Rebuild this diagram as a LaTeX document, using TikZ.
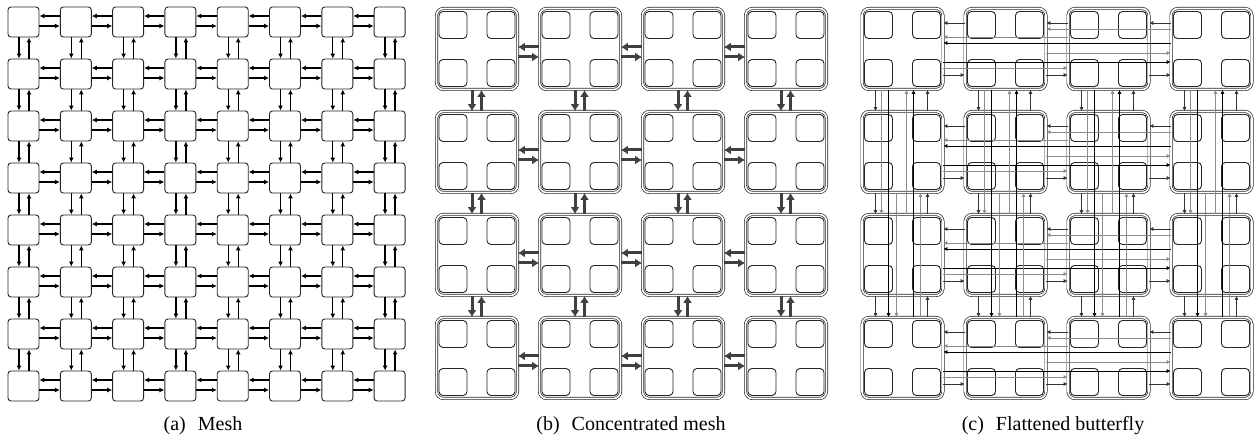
\documentclass[tikz,border=0pt]{standalone}
\usepackage{fontspec}
\setmainfont{Liberation Serif}
\usetikzlibrary{arrows.meta}

\tikzset{
  meshnode/.style={draw=black!85, line width=0.9pt, fill=white, rounded corners=3pt,
    minimum width=31pt, minimum height=30pt, inner sep=0pt},
  meshlink/.style={-{Latex[length=5pt,width=5pt]}, line width=1.3pt, black},
  router/.style={draw=black!85, line width=0.7pt, double=white, double distance=1.6pt,
    rounded corners=7pt, minimum size=81pt, inner sep=0pt},
  core/.style={draw=black!85, line width=0.9pt, fill=white, rounded corners=4pt,
    minimum width=28pt, minimum height=27pt, inner sep=0pt},
  cmlink/.style={-{Latex[length=7pt,width=9pt]}, line width=3pt, black!75},
  fblink/.style={-{Latex[length=4pt,width=4pt]}, line width=0.7pt},
  fb1/.style={fblink, black!80},
  fb2/.style={fblink, black!45},
  fb3/.style={fblink, black},
  caption/.style={font=\fontsize{20}{24}\selectfont}
}

\begin{document}
\begin{tikzpicture}[x=1pt, y=-1pt]
\useasboundingbox (0,0) rectangle (1254,443);

% (a) mesh
\foreach \row in {0,...,7} {
  \foreach \col in {0,...,7}
    \node[meshnode] (m-\row-\col) at ({23.5+52.3*\col}, {22+52*\row}) {};
}

\foreach \row in {0,...,7} {
  \foreach \col [evaluate=\col as \nxt using int(\col+1)] in {0,...,6} {
    \draw[meshlink] ([yshift=6pt]m-\row-\nxt.west) -- ([yshift=6pt]m-\row-\col.east);
    \draw[meshlink] ([yshift=-4pt]m-\row-\col.east) -- ([yshift=-4pt]m-\row-\nxt.west);
  }
}
\foreach \row [evaluate=\row as \nxt using int(\row+1)] in {0,...,6} {
  \foreach \col in {0,...,7} {
    \draw[meshlink] ([xshift=-4.5pt]m-\row-\col.south) -- ([xshift=-4.5pt]m-\nxt-\col.north);
    \draw[meshlink] ([xshift=5.5pt]m-\nxt-\col.north) -- ([xshift=5.5pt]m-\row-\col.south);
  }
}

\node[caption] (capa) at (203,426) {(a)\hspace{0.6em}Mesh};

% (b) concentrated mesh
\foreach \row in {0,...,3} {
  \foreach \col in {0,...,3} {
    \node[router] (b-\row-\col) at ({477+103*\col}, {49+103*\row}) {};
    \foreach \dx/\dy/\k in {-1/-1/1, 1/-1/2, -1/1/3, 1/1/4}
      \node[core] (b-\row-\col-\k) at ([shift={(24*\dx,24*\dy)}]b-\row-\col.center) {};
  }
}

\foreach \row in {0,...,3} {
  \foreach \col [evaluate=\col as \nxt using int(\col+1)] in {0,...,2} {
    \draw[cmlink] ([yshift=2pt]b-\row-\nxt.west) -- ([yshift=2pt]b-\row-\col.east);
    \draw[cmlink] ([yshift=-8pt]b-\row-\col.east) -- ([yshift=-8pt]b-\row-\nxt.west);
  }
}
\foreach \row [evaluate=\row as \nxt using int(\row+1)] in {0,...,2} {
  \foreach \col in {0,...,3} {
    \draw[cmlink] ([xshift=-5pt]b-\row-\col.south) -- ([xshift=-5pt]b-\nxt-\col.north);
    \draw[cmlink] ([xshift=4.5pt]b-\nxt-\col.north) -- ([xshift=4.5pt]b-\row-\col.south);
  }
}

\node[caption] (capb) at (631,426) {(b)\hspace{0.6em}Concentrated mesh};

% (c) flattened butterfly
\foreach \row in {0,...,3} {
  \foreach \col in {0,...,3} {
    \node[router] (c-\row-\col) at ({902.5+103*\col}, {49+103*\row}) {};
    \foreach \dx/\dy/\k in {-1/-1/1, 1/-1/2, -1/1/3, 1/1/4}
      \node[core] (c-\row-\col-\k) at ([shift={(24*\dx,24*\dy)}]c-\row-\col.center) {};
  }
}

% row channels: from/to/offset/class
\foreach \row in {0,...,3} {
  \foreach \a/\b/\off/\s in {1/0/26/1, 2/1/26/1, 3/2/26/1, 3/1/20/2, 2/0/12/2, 3/0/6/3}
    \draw[fb\s] ([yshift=\off pt]c-\row-\a.west) -- ([yshift=\off pt]c-\row-\b.east);
  \foreach \a/\b/\off/\s in {0/1/-26/1, 1/2/-26/1, 2/3/-26/1, 0/2/-19/2, 1/3/-4/2, 0/3/-13/3}
    \draw[fb\s] ([yshift=\off pt]c-\row-\a.east) -- ([yshift=\off pt]c-\row-\b.west);
}
% column channels
\foreach \col in {0,...,3} {
  \foreach \a/\b/\off/\s in {0/1/-27/1, 1/2/-27/1, 2/3/-27/1, 0/2/-21/2, 1/3/-6/2, 0/3/-14/3}
    \draw[fb\s] ([xshift=\off pt]c-\a-\col.south) -- ([xshift=\off pt]c-\b-\col.north);
  \foreach \a/\b/\off/\s in {1/0/25/1, 2/1/25/1, 3/2/25/1, 3/1/18/2, 2/0/4/2, 3/0/11/3}
    \draw[fb\s] ([xshift=\off pt]c-\a-\col.north) -- ([xshift=\off pt]c-\b-\col.south);
}

\node[caption] (capc) at (1053,426) {(c)\hspace{0.6em}Flattened butterfly};

\end{tikzpicture}
\end{document}
